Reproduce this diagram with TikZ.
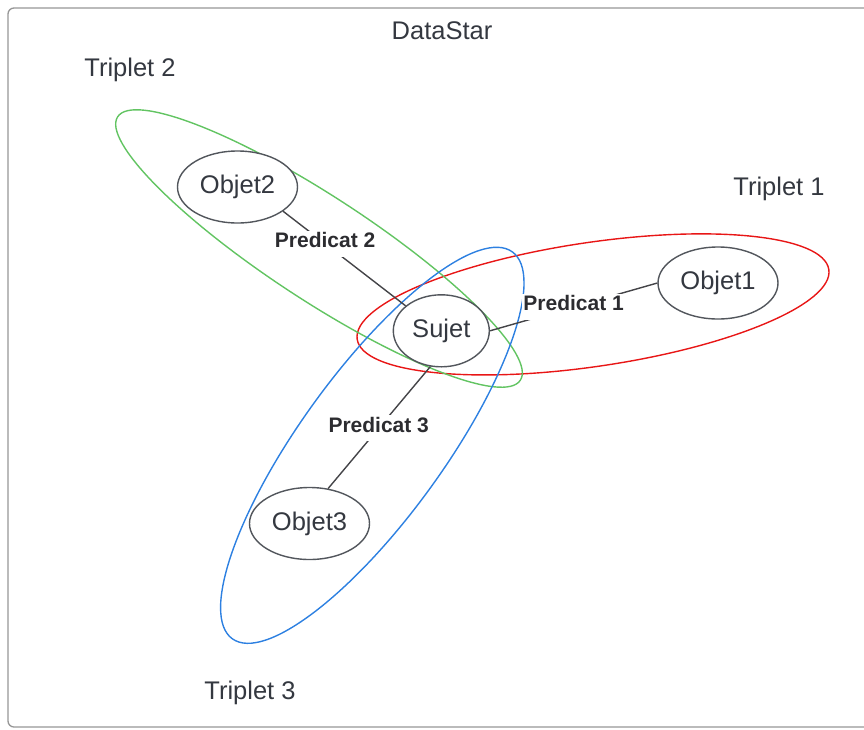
\documentclass[tikz,border=0pt]{standalone}
\usepackage{fontspec}
\setmainfont{Liberation Sans}
\usetikzlibrary{shapes.geometric}

\definecolor{frameGray}{RGB}{150,150,150}
\definecolor{inkText}{RGB}{52,56,64}
\definecolor{labelInk}{RGB}{44,44,48}
\definecolor{nodeLine}{RGB}{82,86,92}
\definecolor{linkLine}{RGB}{68,68,72}
\definecolor{tripRed}{RGB}{232,22,22}
\definecolor{tripGreen}{RGB}{98,196,98}
\definecolor{tripBlue}{RGB}{45,128,225}

\begin{document}
\begin{tikzpicture}[x=1pt,y=-1pt,
  entity/.style={ellipse, draw=nodeLine, line width=1.4pt, fill=white,
    minimum width=120pt, minimum height=72pt, inner sep=0pt, text=inkText,
    font=\fontsize{25.5pt}{30pt}\selectfont},
  predlabel/.style={fill=white, inner xsep=1pt, inner ysep=2pt,
    text height=15pt, text depth=7pt, text=labelInk,
    font=\bfseries\fontsize{21pt}{25pt}\selectfont},
  link/.style={draw=linkLine, line width=1.4pt},
  grouprim/.style={line width=1.4pt},
  caption/.style={text=inkText, font=\fontsize{25.5pt}{30pt}\selectfont,
    anchor=base, inner sep=0pt}
]
\useasboundingbox (0,0) rectangle (864,729);
\clip (0,0) rectangle (864,729);

% outer frame
\draw[frameGray, line width=1.3pt, rounded corners=6pt] (8,8) rectangle (920,727);

% titles
\node[caption] (title) at (442,39) {DataStar};
\node[caption] (t1) at (779,195) {Triplet 1};
\node[caption] (t2) at (130,76) {Triplet 2};
\node[caption] (t3) at (250,699) {Triplet 3};

% triplet groupings
\draw[tripRed, grouprim, rotate around={8.4:(593,304.4)}]
  (593,304.4) ellipse [x radius=238.4pt, y radius=62pt];
\draw[tripGreen, grouprim, rotate around={-33.2:(319,248.5)}]
  (319,248.5) ellipse [x radius=240.6pt, y radius=51.8pt];
\draw[tripBlue, grouprim, rotate around={54.1:(372.3,445.3)}]
  (372.3,445.3) ellipse [x radius=238.8pt, y radius=72pt];

% entities
\node[entity, minimum width=96pt] (sujet) at (441.3,330.8) {Sujet};
\node[entity] (objet1) at (718,283) {Objet1};
\node[entity] (objet2) at (237.5,187) {Objet2};
\node[entity] (objet3) at (309.5,523.5) {Objet3};

% predicates
\draw[link] (sujet.east) -- node[predlabel, pos=0.5] (p1) {Predicat 1} (objet1.west);
\draw[link] (sujet.145) -- node[predlabel, pos=0.657] (p2) {Predicat 2} (objet2.-28.5);
\draw[link] (sujet.253) -- node[predlabel, pos=0.505] (p3) {Predicat 3} (objet3.62);
\end{tikzpicture}
\end{document}
